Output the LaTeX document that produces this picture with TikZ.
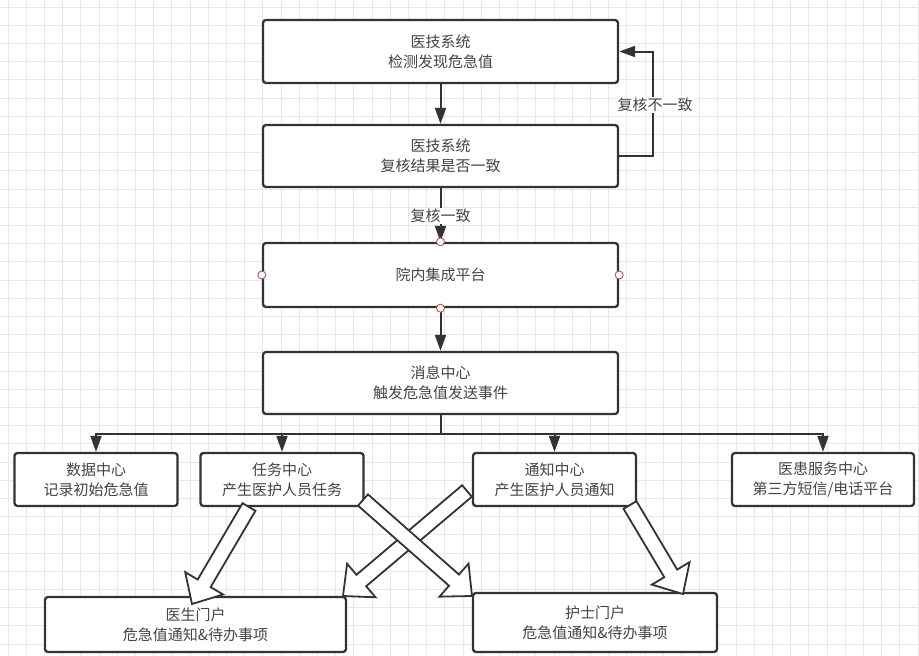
\documentclass[tikz,border=0pt]{standalone}
\usepackage{fontspec}
\setmainfont{Noto Sans CJK SC}
\usetikzlibrary{calc,arrows.meta}
\definecolor{ink}{HTML}{333333}
\definecolor{txt}{HTML}{444444}
\definecolor{gridc}{HTML}{E8E8E8}
\definecolor{portc}{HTML}{B85450}
\newcommand{\blockarr}[2]{%
  \coordinate (hb) at ($(#2)!24pt!(#1)$);
  \draw[barrow] ($(#1)!7.5pt!90:(#2)$) -- ($(hb)!7.5pt!90:(#2)$) -- ($(hb)!22pt!90:(#2)$) -- (#2)
     -- ($(hb)!22pt!-90:(#2)$) -- ($(hb)!7.5pt!-90:(#2)$) -- ($(#1)!7.5pt!-90:(#2)$) -- cycle;}
\begin{document}
\begin{tikzpicture}[x=1pt,y=-1pt,
  box/.style={draw=ink, line width=2.3pt, rounded corners=3pt, fill=white, align=center,
    text=txt, font=\fontsize{15}{20}\selectfont, inner sep=0pt},
  arr/.style={draw=ink, line width=2pt, -{Triangle[length=16pt,width=11pt]}},
  plain/.style={draw=ink, line width=2pt},
  lbl/.style={fill=white, text=txt, font=\fontsize{15}{18}\selectfont, inner sep=1.5pt},
  port/.style={circle, draw=portc, fill=white, line width=0.9pt, minimum size=8pt, inner sep=0pt},
  barrow/.style={draw=ink, fill=white, line width=1.8pt, line join=miter}]
% background
\fill[white] (0,0) rectangle (919,656);
\useasboundingbox (0,0) rectangle (919,656);
\foreach \i in {0,...,50} {
  \draw[gridc, line width=0.9pt] ({8+18.2*\i},0) -- ({8+18.2*\i},656);
}
\foreach \j in {0,...,36} {
  \draw[gridc, line width=0.9pt] (0,{7+18.2*\j}) -- (919,{7+18.2*\j});
}
% main column
\node[box, minimum width=355pt, minimum height=63pt] (A) at (440.5,51.5) {医技系统\\检测发现危急值};
\node[box, minimum width=355pt, minimum height=62pt] (B) at (440.5,156) {医技系统\\复核结果是否一致};
\node[box, minimum width=355pt, minimum height=64pt] (C) at (440.5,275) {院内集成平台};
\node[box, minimum width=355pt, minimum height=62pt] (D) at (440.5,383) {消息中心\\触发危急值发送事件};
% second row
\node[box, minimum width=163pt, minimum height=53pt] (E1) at (96,479.5) {数据中心\\记录初始危急值};
\node[box, minimum width=163pt, minimum height=53pt] (E2) at (282,479.5) {任务中心\\产生医护人员任务};
\node[box, minimum width=163pt, minimum height=53pt] (E3) at (554.5,479.5) {通知中心\\产生医护人员通知};
\node[box, minimum width=182pt, minimum height=53pt] (E4) at (823,479.5) {医患服务中心\\第三方短信/电话平台};
% portals
\node[box, minimum width=301pt, minimum height=55pt] (F1) at (195.5,624.5) {医生门户\\危急值通知\&待办事项};
\node[box, minimum width=244pt, minimum height=59pt] (F2) at (595,622.5) {护士门户\\危急值通知\&待办事项};
% connectors
\draw[arr] (A) -- (B);
\draw[arr] (B.east) -- (653,156) |- (A.east);
\node[lbl] (lk1) at (655,105) {复核不一致};
\draw[arr] (B) -- (C);
\node[lbl] (lk2) at (440.5,216) {复核一致};
\draw[arr] (C) -- (D);
\coordinate (bus) at (440.5,434);
\draw[plain] (D.south) -- (bus);
\draw[plain] (97,434) -- (823,434);
\draw[arr] (bus) -| (E1.north);
\draw[arr] (bus) -| (E2.north);
\draw[arr] (bus) -| (E3.north);
\draw[arr] (bus) -| (E4.north);
% ports on C
\node[port] (p1) at (C.north) {};
\node[port] (p2) at (C.south) {};
\node[port] (p3) at (C.west) {};
\node[port] (p4) at (C.east) {};
% block arrows
\coordinate (t1) at (249,507);   \coordinate (h1) at (192,604);
\coordinate (t3) at (467,491);   \coordinate (h3) at (343,596);
\coordinate (t2) at (363,500);   \coordinate (h2) at (472,596);
\coordinate (t4) at (630,505);   \coordinate (h4) at (683,594);
\blockarr{t1}{h1}
\blockarr{t3}{h3}
\blockarr{t2}{h2}
\blockarr{t4}{h4}
\end{tikzpicture}
\end{document}
